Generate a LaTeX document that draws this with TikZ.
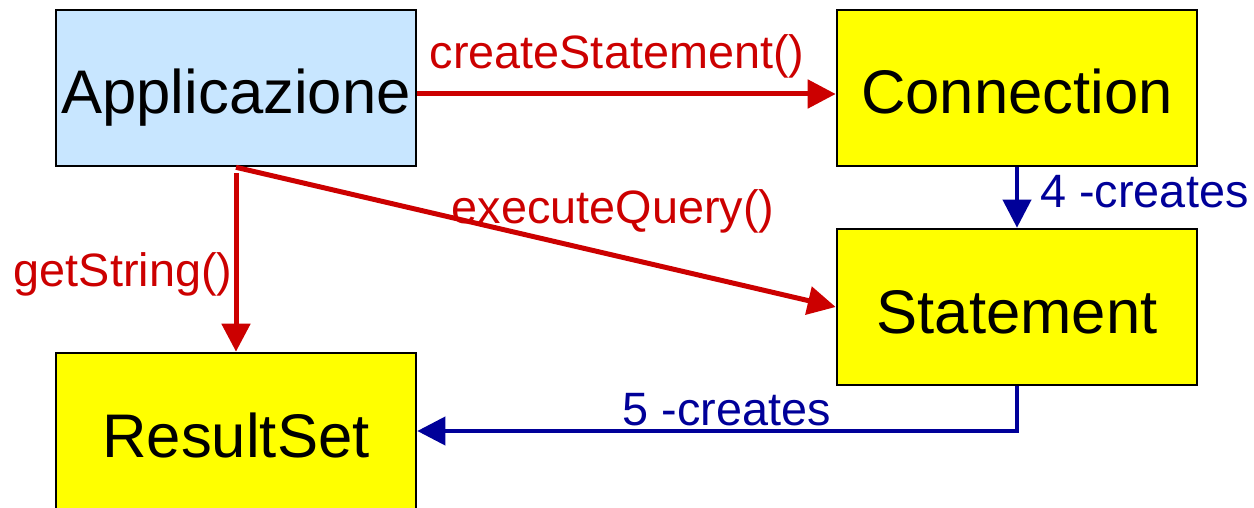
\documentclass[tikz,border=0pt]{standalone}
\usepackage{fontspec}
\setmainfont{Liberation Sans}
\usetikzlibrary{arrows.meta}
\definecolor{appblue}{HTML}{C8E6FF}
\definecolor{boxyellow}{HTML}{FFFF00}
\definecolor{callred}{HTML}{CC0000}
\definecolor{createblue}{HTML}{000099}
\tikzset{
  block/.style={draw=black, line width=1.3pt, minimum width=180pt, minimum height=78pt,
    inner sep=0pt, font=\fontsize{30.8}{36}\selectfont, text height=29pt, text depth=3pt},
  callarrow/.style={draw=callred, line width=2.5pt, -{Triangle[length=14pt,width=14pt]}},
  createarrow/.style={draw=createblue, line width=2pt, -{Triangle[length=14pt,width=14pt]}},
  calllabel/.style={text=callred, font=\fontsize{23.4}{28}\selectfont, anchor=base, inner sep=0pt},
  createlabel/.style={text=createblue, font=\fontsize{23.4}{28}\selectfont, anchor=base, inner sep=0pt}
}
\begin{document}
\begin{tikzpicture}[x=0.5pt, y=-0.5pt]
\useasboundingbox (0,0) rectangle (1254,508);
\clip (0,0) rectangle (1254,508);

% classes
\node[block, fill=appblue]    (app) at (236,88)   {Applicazione};
\node[block, fill=boxyellow]  (con) at (1017,88)  {Connection};
\node[block, fill=boxyellow]  (stm) at (1017,307) {Statement};
\node[block, fill=boxyellow]  (rs)  at (236,431)  {ResultSet};

% method calls
\draw[callarrow] ([yshift=-3pt]app.east) -- ([yshift=-3pt]con.west);
\draw[callarrow] (app.south) -- (stm.west);
\draw[callarrow] ([yshift=-3pt]app.south) -- (rs.north);

% object creation
\draw[createarrow] (con.south) -- (stm.north);
\draw[createarrow] (stm.south) |- (rs.east);

% labels
\node[calllabel] (lcs) at (617,69)  {createStatement()};
\node[calllabel] (leq) at (613,224) {executeQuery()};
\node[calllabel] (lgs) at (123,286) {getString()};
\node[createlabel, anchor=base west] (l4) at (1040,207) {4 -creates};
\node[createlabel] (l5) at (727,425) {5 -creates};
\end{tikzpicture}
\end{document}
